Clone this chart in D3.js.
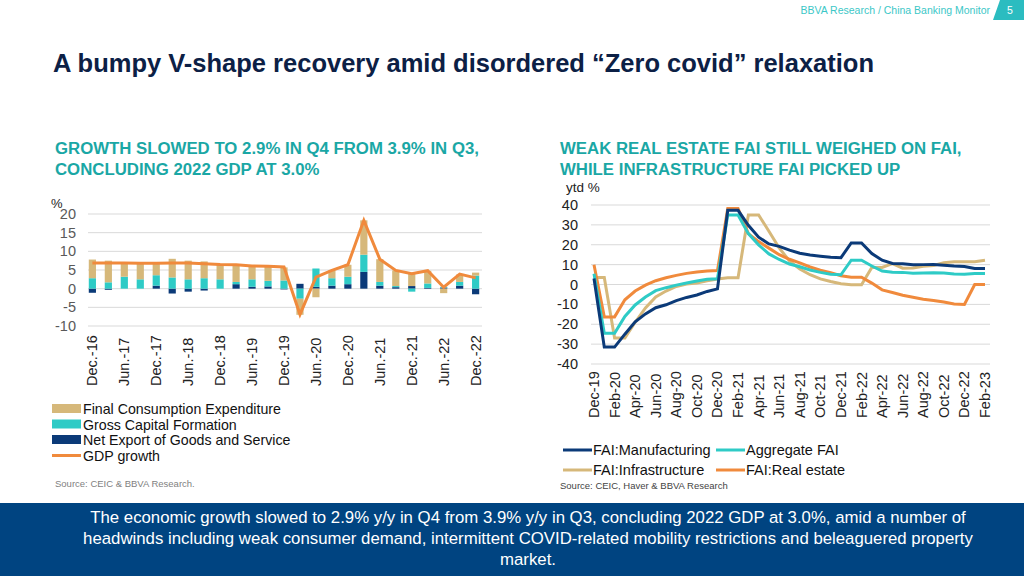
<!DOCTYPE html>
<html><head><meta charset="utf-8">
<script src="https://cdn.jsdelivr.net/npm/d3@7"></script>
<style>body{margin:0;background:#fff;font-family:"Liberation Sans",Arial,sans-serif}</style>
</head><body><svg id="c" width="1024" height="576"></svg>
<script>
const quarters=["Dec.-16","Mar.-17","Jun.-17","Sep.-17","Dec.-17","Mar.-18","Jun.-18","Sep.-18","Dec.-18","Mar.-19","Jun.-19","Sep.-19","Dec.-19","Mar.-20","Jun.-20","Sep.-20","Dec.-20","Mar.-21","Jun.-21","Sep.-21","Dec.-21","Mar.-22","Jun.-22","Sep.-22","Dec.-22"];
const consumption=[5.0,5.8,3.9,4.5,3.4,5.0,5.0,4.5,4.0,4.5,3.6,3.8,3.5,-4.3,-2.3,2.1,3.2,9.2,6.1,4.2,3.3,3.4,-1.2,2.0,0.8];
const capital=[2.8,1.7,3.2,2.5,2.8,3.0,2.5,2.8,2.5,0.6,2.0,1.5,2.2,-2.7,4.9,2.0,2.0,4.6,1.0,0.3,-0.8,1.2,0.2,1.0,3.5];
const netExport=[-1.1,-0.3,0,0,0.8,-1.3,-0.8,-0.5,0,1.2,0.5,0.6,-0.2,1.3,0.5,0.8,1.2,4.5,0.8,0.4,0.7,0.2,0.3,0.8,-1.5];
const gdp=[6.9,6.9,6.9,6.8,6.8,6.9,6.9,6.7,6.5,6.4,6.1,6.0,5.8,-6.9,3.1,4.9,6.4,18.3,7.9,4.9,4.0,4.8,0.4,3.9,2.9];
const leftTicks=[-10,-5,0,5,10,15,20];

const months=["Dec-19","Jan-20","Feb-20","Mar-20","Apr-20","May-20","Jun-20","Jul-20","Aug-20","Sep-20","Oct-20","Nov-20","Dec-20","Jan-21","Feb-21","Mar-21","Apr-21","May-21","Jun-21","Jul-21","Aug-21","Sep-21","Oct-21","Nov-21","Dec-21","Jan-22","Feb-22","Mar-22","Apr-22","May-22","Jun-22","Jul-22","Aug-22","Sep-22","Oct-22","Nov-22","Dec-22","Jan-23","Feb-23"];
const manufacturing=[3,-31.5,-31.5,-25,-18.8,-14.8,-11.7,-10.2,-8.1,-6.5,-5.3,-3.5,-2.2,37.3,37.3,29.8,23.8,20.4,19.2,17.3,15.7,14.8,14.2,13.7,13.5,20.9,20.9,15.6,12.2,10.6,10.4,9.9,10,10.1,9.7,9.3,9.1,8.1,8.1];
const aggregate=[5.4,-24.5,-24.5,-16.1,-10.3,-6.3,-3.1,-1.6,-0.3,0.8,1.8,2.6,2.9,35,35,25.6,19.9,15.4,12.6,10.3,8.9,7.3,6.1,5.2,4.9,12.2,12.2,9.3,6.8,6.2,6.1,5.7,5.8,5.9,5.8,5.3,5.1,5.5,5.5];
const infrastructure=[3.5,3.5,-26.9,-26.9,-19,-11.8,-6.3,-3.3,-1,0.2,0.7,1.9,2.8,3.4,3.4,35,35,26.8,18.4,11.8,7.8,4.9,2.8,1.5,0.4,-0.1,-0.1,8.6,8.6,10.5,8.2,8.3,9.2,9.6,11,11.4,11.5,11.5,12.2];
const realEstate=[9.9,-16.3,-16.3,-7.7,-3.3,-0.3,1.9,3.4,4.6,5.6,6.3,6.8,7.0,38.3,38.3,25.6,21.6,18.3,15,12.7,10.9,8.8,7.2,6,4.4,3.7,3.7,0.7,-2.7,-4,-5.4,-6.4,-7.4,-8,-8.8,-9.8,-10,0,0];
const rightTicks=[-40,-30,-20,-10,0,10,20,30,40];

const svg=d3.select("#c");
const teal="#1aa7a5",navy="#0b3a78",cyan="#2ecbc6",tan="#d6b87a",orange="#f08a3c",grey="#595959";
svg.append("text").attr("x",990).attr("y",14).attr("text-anchor","end").attr("font-size",10.5).attr("fill","#3cc7c7").text("BBVA Research / China Banking Monitor");
svg.append("path").attr("d","M1000,0 L1024,0 L1024,20 L993,20 Z").attr("fill","#2bbcc0");
svg.append("text").attr("x",1010).attr("y",14).attr("text-anchor","middle").attr("font-size",10.5).attr("fill","#fff").text("5");
svg.append("text").attr("x",53).attr("y",72).attr("font-size",25.5).attr("font-weight","bold").attr("fill","#0c2045").text("A bumpy V-shape recovery amid disordered “Zero covid” relaxation");
const sub=(x,lines)=>lines.forEach((t,i)=>svg.append("text").attr("x",x).attr("y",154+i*21).attr("font-size",16.8).attr("font-weight","bold").attr("fill",teal).text(t));
sub(55,["GROWTH SLOWED TO 2.9% IN Q4 FROM 3.9% IN Q3,","CONCLUDING 2022 GDP AT 3.0%"]);
sub(560,["WEAK REAL ESTATE FAI STILL WEIGHED ON FAI,","WHILE INFRASTRUCTURE FAI PICKED UP"]);

const xL=d3.scaleBand().domain(quarters).range([80,488]).padding(0.55);
const yL=d3.scaleLinear().domain([-10,20]).range([326,214]);
const gL=svg.append("g");
leftTicks.forEach(t=>{
  gL.append("line").attr("x1",88).attr("x2",482).attr("y1",yL(t)).attr("y2",yL(t)).attr("stroke","#d9d9d9");
  gL.append("text").attr("x",76).attr("y",yL(t)+5).attr("text-anchor","end").attr("font-size",14.5).attr("fill",grey).text(t);
});
svg.append("text").attr("x",51).attr("y",208).attr("font-size",13).attr("fill","#222").text("%");
const rows=quarters.map((q,i)=>({q,net:netExport[i],cap:capital[i],cons:consumption[i]}));
const stack=d3.stack().keys(["net","cap","cons"]).offset(d3.stackOffsetDiverging)(rows);
const cols={net:navy,cap:cyan,cons:tan};
stack.forEach(s=>gL.selectAll(null).data(s).join("rect")
  .attr("x",d=>xL(d.data.q)).attr("width",xL.bandwidth())
  .attr("y",d=>yL(Math.max(d[0],d[1]))).attr("height",d=>Math.abs(yL(d[0])-yL(d[1])))
  .attr("fill",cols[s.key]));
gL.append("path").datum(gdp).attr("fill","none").attr("stroke",orange).attr("stroke-width",3)
  .attr("d",d3.line().x((d,i)=>xL(quarters[i])+xL.bandwidth()/2).y(d=>yL(d)));
quarters.forEach((q,i)=>{ if(i%2) return;
  const x=xL(q)+xL.bandwidth()/2;
  gL.append("text").attr("transform",`translate(${x+5},386) rotate(-90)`).attr("font-size",14.5).attr("fill","#222").text(q);
});
const leg=[["Final Consumption Expenditure",tan,"rect"],["Gross Capital Formation",cyan,"rect"],["Net Export of Goods and Service",navy,"rect"],["GDP growth",orange,"line"]];
leg.forEach((l,i)=>{const y=409+i*15.5;
  if(l[2]=="rect") svg.append("rect").attr("x",52).attr("y",y-5).attr("width",29).attr("height",9).attr("fill",l[1]);
  else svg.append("line").attr("x1",52).attr("x2",81).attr("y1",y).attr("y2",y).attr("stroke",l[1]).attr("stroke-width",3);
  svg.append("text").attr("x",83).attr("y",y+5).attr("font-size",14.2).attr("fill","#111").text(l[0]);
});
svg.append("text").attr("x",55).attr("y",487).attr("font-size",9.5).attr("fill","#7f7f7f").text("Source: CEIC & BBVA Research.");

const xR=d3.scalePoint().domain(months).range([594,985]);
const yR=d3.scaleLinear().domain([-40,40]).range([364,205]);
const gR=svg.append("g");
rightTicks.forEach(t=>{
  gR.append("line").attr("x1",591).attr("x2",990).attr("y1",yR(t)).attr("y2",yR(t)).attr("stroke","#d9d9d9");
  gR.append("text").attr("x",578).attr("y",yR(t)+5).attr("text-anchor","end").attr("font-size",14.5).attr("fill","#222").text(t);
});
svg.append("text").attr("x",566).attr("y",192).attr("font-size",13.5).attr("fill","#222").text("ytd %");
const lr=d3.line().x((d,i)=>xR(months[i])).y(d=>yR(d));
[[infrastructure,tan],[realEstate,orange],[aggregate,cyan],[manufacturing,navy]].forEach(s=>
  gR.append("path").datum(s[0]).attr("fill","none").attr("stroke",s[1]).attr("stroke-width",3).attr("d",lr));
months.forEach((m,i)=>{ if(i%2) return;
  gR.append("text").attr("transform",`translate(${xR(m)+5},418) rotate(-90)`).attr("font-size",14.5).attr("fill","#222").text(m);
});
[["FAI:Manufacturing",navy,563,450],["Aggregate FAI",cyan,716,450],["FAI:Infrastructure",tan,563,470],["FAI:Real estate",orange,716,470]].forEach(l=>{
  svg.append("line").attr("x1",l[2]).attr("x2",l[2]+29).attr("y1",l[3]).attr("y2",l[3]).attr("stroke",l[1]).attr("stroke-width",3);
  svg.append("text").attr("x",l[2]+30).attr("y",l[3]+5).attr("font-size",14.5).attr("fill","#111").text(l[0]);
});
svg.append("text").attr("x",560).attr("y",489).attr("font-size",9.5).attr("fill","#444").text("Source: CEIC, Haver & BBVA Research");

svg.append("rect").attr("x",0).attr("y",503).attr("width",1024).attr("height",73).attr("fill","#004481");
["The economic growth slowed to 2.9% y/y in Q4 from 3.9% y/y in Q3, concluding 2022 GDP at 3.0%, amid a number of",
 "headwinds including weak consumer demand, intermittent COVID-related mobility restrictions and beleaguered property","market."]
 .forEach((t,i)=>svg.append("text").attr("x",528).attr("y",523+i*21).attr("text-anchor","middle").attr("font-size",16.8).attr("fill","#fff").text(t));
</script></body></html>
